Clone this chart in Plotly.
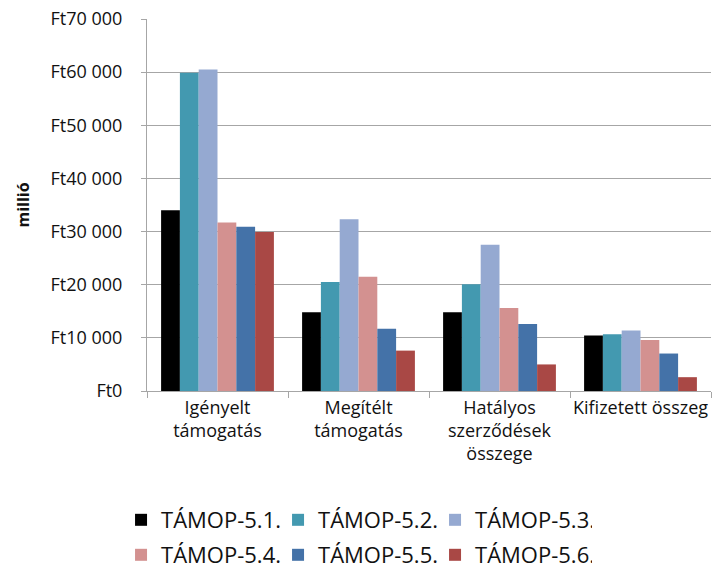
import plotly.graph_objects as go

categories = ["Igényelt<br>támogatás", "Megítélt<br>támogatás", "Hatályos<br>szerződések<br>összege", "Kifizetett összeg"]
series_names = ["TÁMOP-5.1.", "TÁMOP-5.2.", "TÁMOP-5.3.", "TÁMOP-5.4.", "TÁMOP-5.5.", "TÁMOP-5.6."]
tamop_51 = [34000, 14800, 14800, 10450]
tamop_52 = [59900, 20500, 20100, 10700]
tamop_53 = [60500, 32300, 27500, 11400]
tamop_54 = [31700, 21500, 15600, 9600]
tamop_55 = [30900, 11700, 12600, 7050]
tamop_56 = [29900, 7600, 5000, 2600]
tick_vals = [0, 10000, 20000, 30000, 40000, 50000, 60000, 70000]
tick_text = ["Ft0", "Ft10 000", "Ft20 000", "Ft30 000", "Ft40 000", "Ft50 000", "Ft60 000", "Ft70 000"]

colors = ["#000000", "#4399B0", "#95A9D1", "#D39190", "#4472A8", "#A94845"]
values = [tamop_51, tamop_52, tamop_53, tamop_54, tamop_55, tamop_56]

FONT = "Open Sans, sans-serif"

fig = go.Figure()
for i, (name, vals, col) in enumerate(zip(series_names, values, colors)):
    fig.add_trace(go.Bar(
        x=categories, y=vals, name=name,
        marker=dict(color=col, line=dict(width=0)),
        legend="legend" if i < 3 else "legend2",
    ))

leg_common = dict(orientation="h", xanchor="left", yanchor="middle",
                  xref="container", yref="container",
                  font=dict(family=FONT, size=22, color="#111111"), traceorder="normal",
                  itemwidth=30, tracegroupgap=0, bgcolor="rgba(0,0,0,0)",
                  entrywidth=112, entrywidthmode="pixels")

fig.update_layout(
    width=712, height=569,
    margin=dict(l=147, r=1, t=19, b=178),
    paper_bgcolor="white", plot_bgcolor="white",
    barmode="group", bargap=0.2, bargroupgap=0,
    font=dict(family=FONT, size=17, color="#111111"),
    showlegend=True,
    legend=dict(x=0.17, y=0.0861, **leg_common),
    legend2=dict(x=0.17, y=0.0246, **leg_common),
)

fig.update_yaxes(
    range=[0, 70000], tickvals=tick_vals, ticktext=tick_text,
    showgrid=True, gridcolor="#A6A6A6", gridwidth=1,
    showline=True, linecolor="#A6A6A6", linewidth=1,
    ticks="outside", ticklen=5, tickcolor="#A6A6A6",
    ticklabelstandoff=15, ticklabeloverflow="allow",
    tickfont=dict(family=FONT, size=18),
    title=dict(text="<b>millió</b>", font=dict(family=FONT, size=16), standoff=16),
    zeroline=False, automargin=False,
)
fig.update_xaxes(
    showline=True, linecolor="#A6A6A6", linewidth=1,
    ticks="outside", ticklen=6, tickcolor="#A6A6A6", tickson="boundaries",
    tickfont=dict(family=FONT, size=18), tickangle=0,
    automargin=False,
)

# remove the browser's default 8px body margin so the figure fills the window
fig.write_html("out.html", config={"displayModeBar": False},
               post_script="document.body.style.margin='0';")
